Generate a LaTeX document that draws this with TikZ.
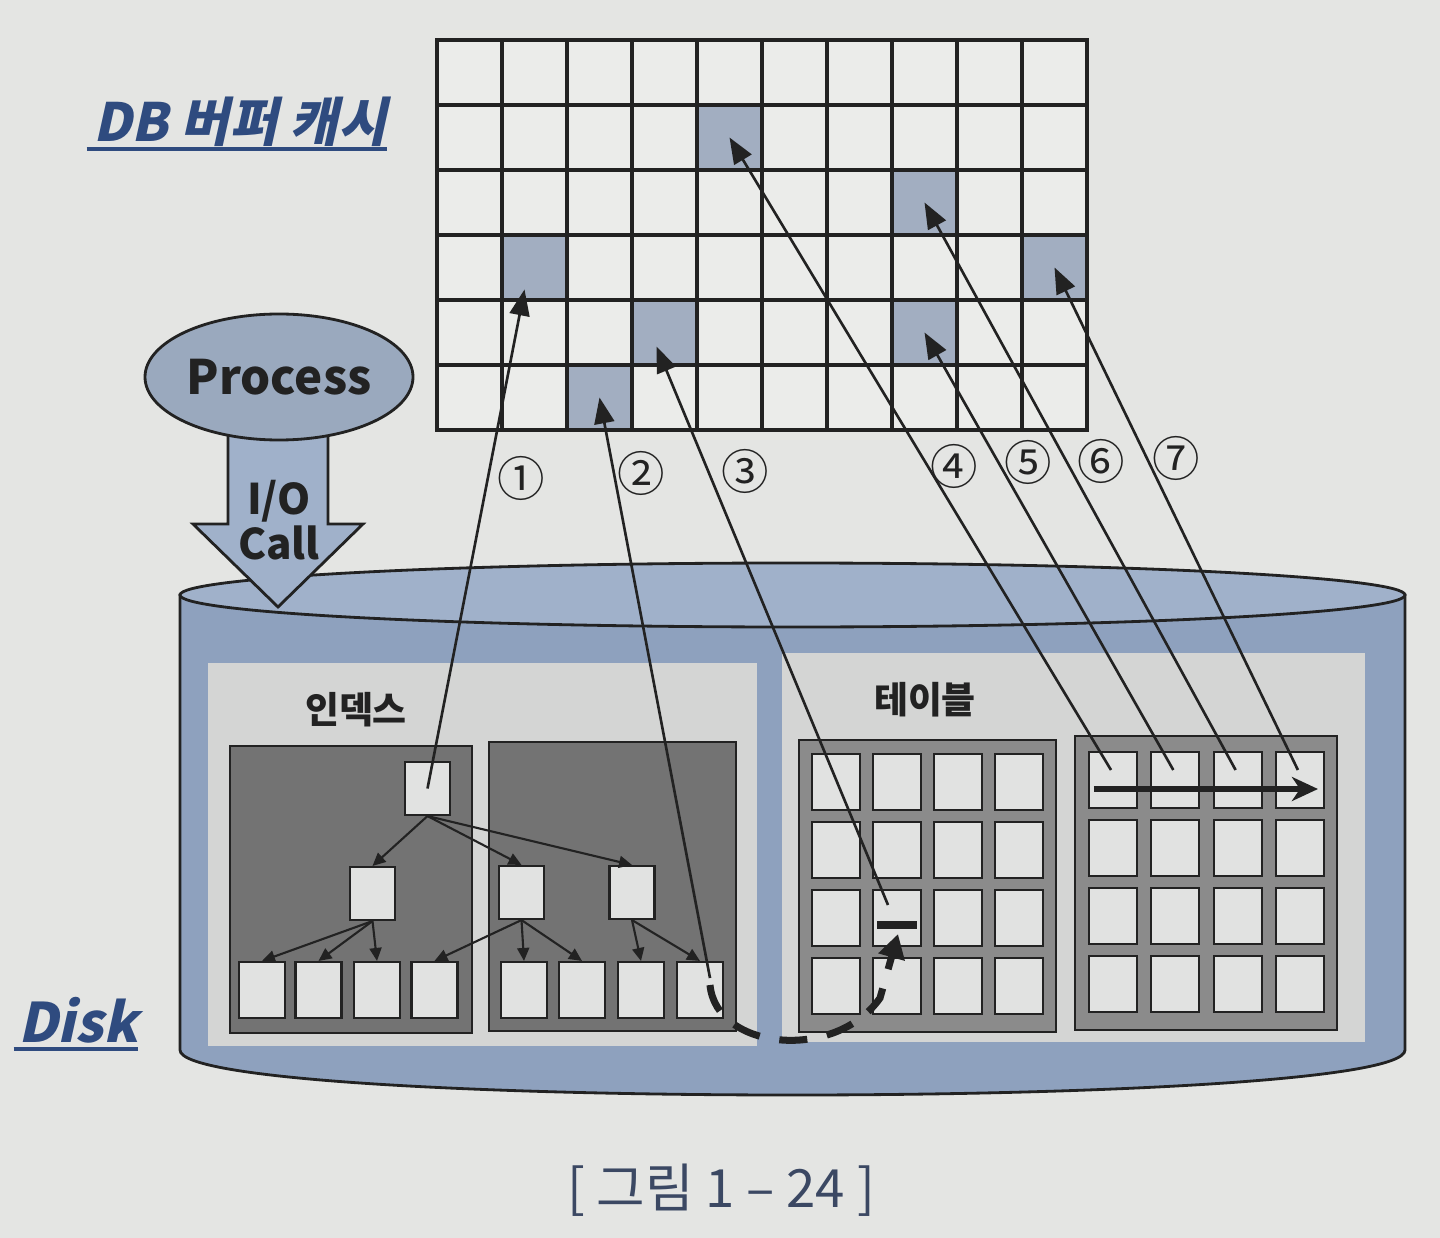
\documentclass[tikz,border=0pt]{standalone}
\usepackage{fontspec}
\setmainfont{Noto Sans CJK KR}
\newfontfamily\slantfont[FakeSlant=0.22]{Noto Sans CJK KR}
\usepackage{tikz}
\usetikzlibrary{positioning, arrows.meta, calc, shapes.geometric}
\definecolor{paper}{HTML}{E4E5E3}
\definecolor{ink}{HTML}{222222}
\definecolor{cellfill}{HTML}{EBECEA}
\definecolor{hitblue}{HTML}{A2AEC1}
\definecolor{procblue}{HTML}{9AA9BE}
\definecolor{diskblue}{HTML}{8EA1BE}
\definecolor{disktopblue}{HTML}{A0B1CA}
\definecolor{panelgray}{HTML}{D4D5D4}
\definecolor{idxgray}{HTML}{737373}
\definecolor{tblgray}{HTML}{8B8B8B}
\definecolor{pagefill}{HTML}{E1E2E1}
\definecolor{titleblue}{HTML}{2F4B7F}
\definecolor{captionblue}{HTML}{3B4863}

\tikzset{
  bufcell/.style={draw=ink, line width=0.9pt, fill=cellfill, minimum width=6.5mm,
    minimum height=6.5mm, inner sep=0pt},
  hitcell/.style={bufcell, fill=hitblue},
  fetch/.style={draw=ink, line width=0.75pt, -{Triangle[length=2.6mm, width=2mm]}},
  numtag/.style={font=\fontsize{13.5pt}{13.5pt}\selectfont, text=ink, inner sep=0pt},
  panel/.style={fill=panelgray, inner sep=0pt},
  idxblock/.style={draw=ink, line width=0.6pt, fill=idxgray, inner sep=0pt},
  tblblock/.style={draw=ink, line width=0.6pt, fill=tblgray, inner sep=0pt},
  page/.style={draw=ink, line width=0.6pt, fill=pagefill, inner sep=0pt},
  treelink/.style={draw=ink, line width=0.6pt, -{Triangle[length=1.3mm, width=1.2mm]}},
  hop/.style={draw=ink, line width=2pt, dash pattern=on 2.8mm off 2mm,
    -{Triangle[length=2.4mm, width=2.6mm]}},
  hopbar/.style={draw=ink, line width=2pt},
  scan/.style={draw=ink, line width=1.5pt, -{Stealth[length=2.6mm, width=2.4mm, inset=0.8mm]}},
  bluetitle/.style={text=titleblue, inner sep=0pt},
  underbar/.style={draw=titleblue, line width=1.1pt},
  boxlabel/.style={font=\bfseries\fontsize{10.5pt}{10.5pt}\selectfont, text=ink, inner sep=0pt}
}

\begin{document}
\begin{tikzpicture}[x=0.1mm, y=-0.1mm]
  \useasboundingbox (0,0) rectangle (1440,1238);
  \fill[paper] (0,0) rectangle (1440,1238);

  % disk
  \draw[ink, line width=0.8pt, fill=diskblue] (180,595) -- (180,1050)
    .. controls (180,1110) and (1405,1110) .. (1405,1050) -- (1405,595) -- cycle;
  \node[ellipse, draw=ink, line width=0.8pt, fill=disktopblue, minimum width=122.5mm,
        minimum height=6.4mm, inner sep=0pt] (disktop) at (792.5,595) {};

  \node[panel, minimum width=54.9mm, minimum height=38.3mm] (idxpanel) at (482.5,854.5) {};
  \node[panel, minimum width=58.3mm, minimum height=38.9mm] (tblpanel) at (1073.5,847.5) {};
  \node[boxlabel] (idxlabel) at (356,710) {인덱스};
  \node[boxlabel] (tbllabel) at (925,700) {테이블};

  % index blocks
  \node[idxblock, minimum width=24.2mm, minimum height=28.7mm] (blkA) at (351,889.5) {};
  \node[idxblock, minimum width=24.7mm, minimum height=28.9mm] (blkB) at (612.5,886.5) {};
  \node[page, minimum width=4.5mm, minimum height=5.3mm] (root) at (427.5,788.5) {};
  \node[page, minimum width=4.5mm, minimum height=5.3mm] (mid1) at (372.5,893.5) {};
  \node[page, minimum width=4.5mm, minimum height=5.3mm] (mid2) at (521.5,892.5) {};
  \node[page, minimum width=4.5mm, minimum height=5.3mm] (mid3) at (632,892.5) {};
  \foreach \x [count=\i] in {262,318.5,377,434.5,524,582,641,700}
    \node[page, minimum width=4.6mm, minimum height=5.6mm] (leaf\i) at (\x,990) {};
  \foreach \a/\b in {root/mid1,root/mid2,root/mid3,mid1/leaf1,mid1/leaf2,mid1/leaf3,
                     mid2/leaf4,mid2/leaf5,mid2/leaf6,mid3/leaf7,mid3/leaf8}
    \draw[treelink] (\a.south) -- (\b.north);

  % table blocks
  \node[tblblock, minimum width=25.7mm, minimum height=29.2mm] (blkC) at (927.5,886) {};
  \node[tblblock, minimum width=26.2mm, minimum height=29.4mm] (blkD) at (1206,883) {};
  \foreach \c in {0,...,3}
    \foreach \r in {0,...,3} {
      \node[page, minimum width=4.8mm, minimum height=5.6mm] (ta-\c-\r) at ({836+61*\c},{782+68*\r}) {};
      \node[page, minimum width=4.8mm, minimum height=5.6mm] (tb-\c-\r) at ({1113+62.3*\c},{780+68*\r}) {};
    }

  % DB buffer cache
  \foreach \c in {0,...,9}
    \foreach \r in {0,...,5}
      \node[bufcell] (b-\c-\r) at ({469.5+65*\c},{72.5+65*\r}) {};
  \foreach \c/\r in {1/3,2/5,3/4,4/1,7/4,7/2,9/3}
    \node[hitcell] (h-\c-\r) at (b-\c-\r) {};

  % process and I/O call
  \draw[ink, line width=0.8pt, fill=disktopblue] (228,420) -- (228,524) -- (193,524)
    -- (278,607) -- (363,524) -- (328,524) -- (328,420);
  \node[ellipse, draw=ink, line width=0.8pt, fill=procblue, minimum width=26.8mm,
        minimum height=12.6mm, inner sep=0pt,
        font=\bfseries\fontsize{13.5pt}{13.5pt}\selectfont, text=ink] (proc) at (279,377) {Process};
  \node[align=center, inner sep=0pt, text=ink,
        font=\bfseries\fontsize{12pt}{13pt}\selectfont] (iocall) at (279,520) {I/O\\Call};

  % titles
  \node[bluetitle, font=\slantfont\bfseries\fontsize{15pt}{15pt}\selectfont] (dbtitle) at (240,122) {DB 버퍼 캐시};
  \draw[underbar] ($(dbtitle.base west)+(-6,7)$) -- ($(dbtitle.base east)+(0,7)$);
  \node[bluetitle, font=\slantfont\bfseries\fontsize{15.5pt}{15.5pt}\selectfont] (disktitle) at (78,1020) {Disk};
  \draw[underbar] ($(disktitle.base west)+(-4,7)$) -- ($(disktitle.base east)+(0,7)$);
  \node[text=captionblue, inner sep=0pt, font=\fontsize{15pt}{15pt}\selectfont] (caption) at (721,1190) {[ 그림 1 – 24 ]};

  % random reads
  \draw[hop] ($(leaf8.center)+(10,-5)$) .. controls (716,1050) and (835,1062) .. (880,998)
    -- ($(ta-1-2.center)+(1,16)$);
  \draw[hopbar] ($(ta-1-2.center)+(-20,7)$) -- ($(ta-1-2.center)+(20,7)$);
  \draw[scan] ($(tb-0-0.west)+(6,9)$) -- ($(tb-3-0.east)+(-7,9)$);

  \draw[fetch] (root.center) -- ($(h-1-3.center)+(-10,22)$);
  \draw[fetch] ($(leaf8.center)+(10,-12)$) -- (h-2-5.center);
  \draw[fetch] ($(ta-1-2.center)+(-9,-13)$) -- ($(h-3-4.center)+(-8,14)$);
  \draw[fetch] ($(tb-0-0.center)+(-2,-10)$) -- (h-4-1.center);
  \draw[fetch] ($(tb-1-0.center)+(-2,-10)$) -- (h-7-4.center);
  \draw[fetch] ($(tb-2-0.center)+(-2,-10)$) -- (h-7-2.center);
  \draw[fetch] ($(tb-3-0.center)+(-2,-10)$) -- (h-9-3.center);

  \node[numtag] (n1) at (521,478) {①};
  \node[numtag] (n2) at (641,473) {②};
  \node[numtag] (n3) at (745,471) {③};
  \node[numtag] (n4) at (954,466) {④};
  \node[numtag] (n5) at (1028,462) {⑤};
  \node[numtag] (n6) at (1101,461) {⑥};
  \node[numtag] (n7) at (1176,458) {⑦};
\end{tikzpicture}
\end{document}
